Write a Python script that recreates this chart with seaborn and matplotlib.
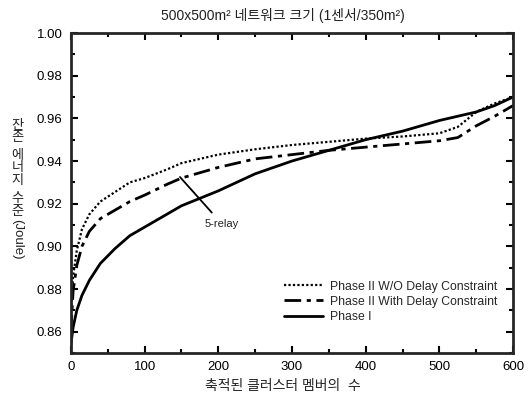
import numpy as np
import pandas as pd
import matplotlib
matplotlib.use("Agg")
import matplotlib.pyplot as plt
import seaborn as sns

# 데이터
members = [0, 3, 8, 15, 25, 40, 60, 80, 100, 130, 150, 200, 250, 300, 350,
           400, 450, 500, 525, 550, 575, 600]
phase2_wo = [0.868, 0.886, 0.898, 0.908, 0.915, 0.921, 0.9255, 0.930, 0.932,
             0.936, 0.939, 0.943, 0.9455, 0.9475, 0.949, 0.9505, 0.9515,
             0.953, 0.956, 0.963, 0.967, 0.970]
phase2_with = [0.860, 0.879, 0.891, 0.900, 0.907, 0.913, 0.917, 0.921, 0.924,
               0.929, 0.932, 0.937, 0.941, 0.943, 0.945, 0.9465, 0.948,
               0.9495, 0.951, 0.9565, 0.961, 0.966]
phase1 = [0.854, 0.862, 0.870, 0.877, 0.884, 0.892, 0.899, 0.905, 0.909,
          0.915, 0.919, 0.926, 0.934, 0.940, 0.945, 0.950, 0.954, 0.959,
          0.961, 0.963, 0.966, 0.970]
series_names = ["Phase II W/O Delay Constraint",
                "Phase II With Delay Constraint",
                "Phase I"]
x_ticks = [0, 100, 200, 300, 400, 500, 600]
y_ticks = [0.86, 0.88, 0.90, 0.92, 0.94, 0.96, 0.98, 1.00]

title = "500x500m² 네트워크 크기 (1센서/350m²)"
x_label = "축적된 클러스터 멤버의  수"

sns.set_style("ticks")
plt.rcParams['font.family'] = ['Liberation Sans', 'Noto Sans CJK KR', 'DejaVu Sans']

df = pd.DataFrame({"x": members, series_names[0]: phase2_wo,
                   series_names[1]: phase2_with, series_names[2]: phase1})

fig = plt.figure(figsize=(5.29, 3.96), dpi=100)
ax = fig.add_axes([0.134, 0.1086, 0.836, 0.808])

styles = [(0, (1, 1)), (0, (6, 2, 1.5, 2)), "-"]
widths = [1.6, 2.0, 2.0]
for name, ls, lw in zip(series_names, styles, widths):
    sns.lineplot(data=df, x="x", y=name, ax=ax, color="black",
                 linestyle=ls, linewidth=lw, label=name)

ax.set_xlim(0, 600)
ax.set_ylim(0.85, 1.00)
ax.set_xticks(x_ticks)
ax.set_yticks(y_ticks)
ax.set_xticklabels([str(t) for t in x_ticks])
ax.set_yticklabels([f"{t:.2f}" for t in y_ticks])
ax.set_xticks(np.arange(50, 600, 100), minor=True)
ax.set_yticks(np.arange(0.85, 1.0, 0.02), minor=True)
ax.tick_params(which="both", direction="in", top=True, right=True,
               width=1.5, labelsize=9.5, colors="black", pad=6)
ax.tick_params(which="major", length=5)
ax.tick_params(which="minor", length=3)
for sp in ax.spines.values():
    sp.set_visible(True)
    sp.set_linewidth(2)
ax.set_xlabel("")
ax.set_ylabel("")

# 축 이름
fig.text(0.535, 0.025, x_label, ha="center", va="center", fontsize=10,
         color="#222222")
fig.text(0.535, 0.962, title, ha="center", va="center", fontsize=10,
         color="#222222")

# 세로 축 이름 (한글은 세워서, 한 글자씩)
yl_x = 0.033
word_tops = [(["잔", "존"], 120), (["에", "너", "지"], 150), (["수", "준"], 193)]
for chars, top in word_tops:
    for i, ch in enumerate(chars):
        fig.text(yl_x, 1 - (top + i * 12.5) / 396, ch, ha="center", va="top",
                 fontsize=9.5, color="#222222")
fig.text(yl_x, 1 - 219 / 396, "(Joule)", ha="center", va="top", fontsize=9.5,
         rotation=-90, color="#222222")

ax.annotate("5-relay", xy=(148, 0.9325), xytext=(205, 0.9105),
            ha="center", va="center", fontsize=8, color="#222222",
            arrowprops=dict(arrowstyle="-", color="black", lw=1.3,
                            shrinkA=3, shrinkB=0))

leg = ax.legend(loc="lower right", frameon=False, fontsize=8.8,
                handlelength=3.2, handletextpad=0.6, labelspacing=0.25,
                bbox_to_anchor=(0.99, 0.06))

fig.savefig("out.png", dpi=100)
